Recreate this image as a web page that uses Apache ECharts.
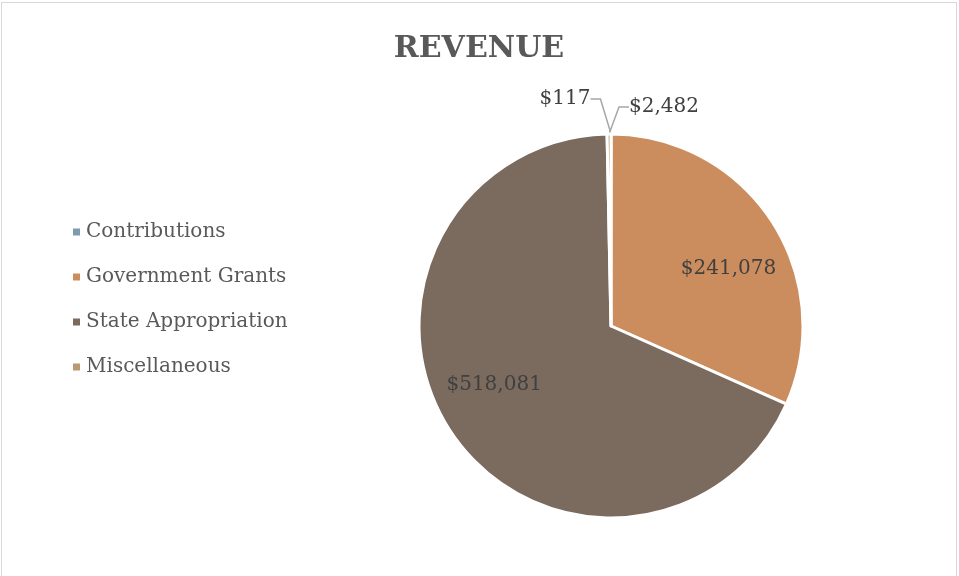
<!DOCTYPE html>
<html>
<head>
<meta charset="utf-8">
<script src="https://cdn.jsdelivr.net/npm/echarts@6/dist/echarts.min.js"></script>
<style>
html, body { margin: 0; padding: 0; background: #fff; }
#chart {
  position: absolute;
  left: 1px; top: 2px;
  width: 956px; height: 580px;
  border: 1px solid #d9d9d9;
  box-sizing: border-box;
}
</style>
</head>
<body>
<div id="chart"></div>
<script>
const categories = ['Contributions', 'Government Grants', 'State Appropriation', 'Miscellaneous']
const values = [117, 241078, 518081, 2482]
const colors = ['#7f9aae', '#cc8d5e', '#7b6a5e', '#b99a72']

const fontFamily = '"DejaVu Serif", serif'
const centerX = 609
const centerY = 323

const formatMoney = (v) => '$' + v.toLocaleString('en-US')

const buildData = () => {
  let ret = []
  categories.forEach((name, i) => {
    const small = values[i] < 10000
    ret.push({
      name: name,
      value: values[i],
      label: small
        ? { position: 'outside' }
        : { position: 'inside' },
      labelLine: { show: small }
    })
  })
  return ret
}

const myChart = echarts.init(document.getElementById('chart'))

const options = {
  animation: false,
  color: colors,
  title: {
    text: 'REVENUE',
    left: 'center',
    top: 26,
    textStyle: {
      fontFamily: fontFamily,
      fontSize: 30,
      fontWeight: 'bold',
      color: '#595959'
    }
  },
  legend: {
    orient: 'vertical',
    left: 64,
    top: 214,
    itemWidth: 9,
    itemHeight: 9,
    itemGap: 25,
    icon: 'rect',
    textStyle: {
      fontFamily: fontFamily,
      fontSize: 20,
      color: '#595959'
    },
    data: categories
  },
  series: [
    {
      type: 'pie',
      center: [centerX, centerY],
      radius: 192,
      startAngle: 90,
      clockwise: true,
      itemStyle: {
        borderColor: '#fff',
        borderWidth: 3
      },
      label: {
        formatter: (p) => formatMoney(p.value),
        fontFamily: fontFamily,
        fontSize: 20,
        color: '#404040'
      },
      labelLine: {
        lineStyle: { color: '#a6a6a6', width: 1.5 },
        length: 10,
        length2: 10
      },
      labelLayout: (p) => {
        const r = p.labelRect
        const dx = r.x + r.width / 2 - centerX
        const dy = r.y + r.height / 2 - centerY
        if (values[p.dataIndex] >= 10000) {
          // inner labels sit further out and a little clockwise, like the original
          const k = 1.32
          const a = 7 * Math.PI / 180
          return {
            x: centerX + k * (dx * Math.cos(a) - dy * Math.sin(a)),
            y: centerY + k * (dx * Math.sin(a) + dy * Math.cos(a)),
            align: 'center',
            verticalAlign: 'middle'
          }
        }
        if (p.dataIndex === 0) {
          return { x: 563, y: 96, align: 'center', verticalAlign: 'middle' }
        }
        return { x: 662, y: 104, align: 'center', verticalAlign: 'middle' }
      },
      data: buildData()
    }
  ]
}

myChart.setOption(options)
</script>
</body>
</html>
